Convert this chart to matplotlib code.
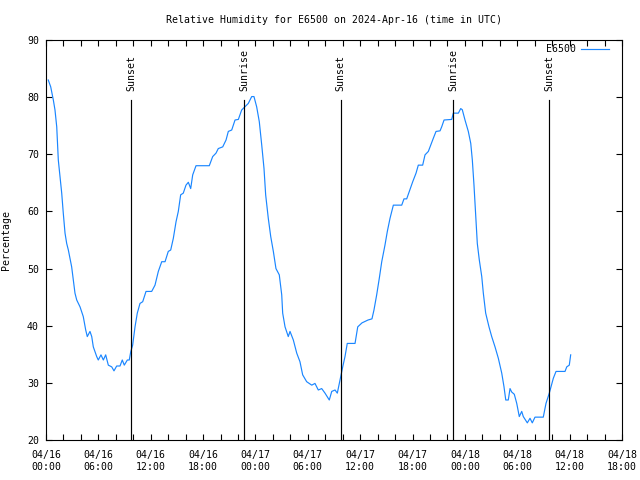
import matplotlib
matplotlib.use("Agg")
import matplotlib.pyplot as plt
import matplotlib.dates as mdates
import pandas as pd

# ---- data (hours since 2024-04-16 00:00 UTC, relative humidity %) ----
hours = [0.26, 0.54, 0.84, 1.03, 1.23, 1.41, 1.60, 1.80, 1.98, 2.18, 2.37, 2.56,
         2.94, 3.13, 3.32, 3.52, 3.90, 4.27, 4.55, 4.73, 5.04, 5.24, 5.42, 5.81,
         5.99, 6.30, 6.57, 6.84, 7.14, 7.53, 7.79, 8.10, 8.48, 8.74, 8.97, 9.32,
         9.54, 9.71, 9.93, 10.20, 10.46, 10.77, 11.08, 11.46, 12.11, 12.49, 12.87,
         13.26, 13.64, 14.01, 14.29, 14.59, 14.90, 15.16, 15.43, 15.73, 16.04,
         16.31, 16.58, 16.81, 17.19, 18.71, 19.10, 19.48, 19.74, 20.25, 20.63,
         20.89, 21.28, 21.66, 22.04, 22.42, 22.72, 23.18, 23.57, 23.83, 24.14,
         24.44, 24.72, 24.98, 25.17, 25.47, 25.75, 26.05, 26.35, 26.73, 27.01,
         27.12, 27.39, 27.76, 27.96, 28.34, 28.73, 29.10, 29.41, 29.87, 30.45,
         30.82, 31.20, 31.59, 31.97, 32.46, 32.74, 33.12, 33.38, 33.69, 34.00,
         34.26, 34.52, 35.41, 35.72, 36.21, 36.90, 37.35, 37.58, 37.89, 38.19,
         38.47, 38.84, 39.11, 39.42, 39.80, 40.76, 41.02, 41.33, 41.63, 42.02,
         42.40, 42.66, 43.16, 43.43, 43.81, 44.08, 44.38, 44.69, 45.15, 45.34,
         45.61, 46.49, 46.67, 47.25, 47.52, 47.70, 48.01, 48.39, 48.67, 48.85,
         49.04, 49.24, 49.42, 49.65, 49.93, 50.11, 50.38, 50.76, 51.07, 51.45,
         51.83, 52.22, 52.48, 52.68, 52.97, 53.17, 53.36, 53.66, 53.94, 54.23,
         54.51, 54.69, 55.15, 55.46, 55.72, 56.03, 56.98, 57.29, 57.67, 58.13,
         58.44, 59.47, 59.67, 59.96, 60.12]
humidity = [83.0, 81.8, 79.5, 77.75, 74.8, 69.0, 66.1, 63.2, 59.7, 56.2, 54.4, 53.25,
            50.3, 48.0, 45.7, 44.5, 43.3, 41.6, 39.25, 38.1, 39.0, 38.1, 36.3, 34.6,
            34.0, 34.9, 34.0, 34.9, 33.1, 32.8, 32.1, 32.95, 32.95, 34.0, 33.1, 34.0,
            34.0, 35.45, 36.6, 39.8, 42.2, 43.9, 44.2, 46.0, 46.0, 47.1, 49.5,
            51.2, 51.2, 53.0, 53.25, 55.3, 58.2, 60.0, 62.9, 63.2, 64.6,
            65.1, 64.0, 66.4, 68.0, 68.0, 69.6, 70.2, 71.0, 71.3, 72.5,
            74.0, 74.25, 76.0, 76.1, 77.75, 78.2, 78.9, 80.1, 80.1, 78.3,
            75.7, 71.6, 67.5, 62.9, 58.8, 55.6, 53.0, 50.0, 48.9, 45.4,
            42.2, 39.8, 38.1, 39.0, 37.5, 35.2, 33.7, 31.4, 30.2, 29.6,
            29.9, 28.75, 29.0, 28.2, 27.0, 28.5, 28.75, 28.2, 30.5, 32.8,
            34.6, 36.9, 36.9, 39.8, 40.5, 41.0, 41.2, 42.75, 45.4, 48.3,
            51.2, 54.1, 56.5, 58.8, 61.1, 61.1, 62.2, 62.2, 63.5, 65.2,
            66.7, 68.1, 68.1, 69.9, 70.5, 71.6, 72.8, 74.0, 74.1, 74.8,
            76.0, 76.1, 77.2, 77.2, 78.0, 77.8, 76.0, 74.0, 71.9, 69.0,
            64.6, 59.1, 54.4, 51.5, 48.6, 45.7, 42.2, 39.8, 38.1, 36.3,
            34.3, 31.7, 29.3, 27.0, 27.0, 29.0, 28.4, 28.0, 26.4, 24.1,
            25.0, 24.1, 23.0, 23.8, 23.0, 24.0, 24.0, 26.4, 28.2, 30.8,
            32.0, 32.0, 32.8, 33.1, 34.9]

event_times = ["2024-04-16 09:44", "2024-04-16 22:43", "2024-04-17 09:47",
               "2024-04-17 22:41", "2024-04-18 09:41"]
event_labels = ["Sunset", "Sunrise", "Sunset", "Sunrise", "Sunset"]

station = "E6500"
title = "Relative Humidity for E6500 on 2024-Apr-16 (time in UTC)"
ylabel = "Percentage"
x_start = "2024-04-16 00:00"
x_end = "2024-04-18 18:00"
y_min, y_max = 20, 90

# ---- plotting ----
FONT = "DejaVu Sans Mono"
FS = 7.15
LINE_COLOR = "#1a86ff"
plt.rcParams["font.family"] = FONT
plt.rcParams["font.size"] = FS

times = pd.Timestamp(x_start) + pd.to_timedelta(hours, unit="h")

fig = plt.figure(figsize=(6.4, 4.8), dpi=100)
ax = fig.add_axes([46 / 640, 40 / 480, 576 / 640, 400 / 480])

ax.plot(times, humidity, color=LINE_COLOR, lw=0.85, label=station)

for t, lab in zip(event_times, event_labels):
    ts = pd.Timestamp(t)
    ax.plot([ts, ts], [y_min, y_min + 0.85 * (y_max - y_min)], color="black", lw=0.85)
    ax.text(ts, y_min + 0.872 * (y_max - y_min), lab, rotation=90,
            ha="center", va="bottom", fontsize=FS, family=FONT)

ax.set_xlim(pd.Timestamp(x_start), pd.Timestamp(x_end))
ax.set_ylim(y_min, y_max)
ax.set_yticks(range(y_min, y_max + 1, 10))
ax.xaxis.set_major_locator(mdates.HourLocator(byhour=range(0, 24, 6)))
ax.xaxis.set_minor_locator(mdates.HourLocator(byhour=range(0, 24, 2)))
ax.xaxis.set_major_formatter(mdates.DateFormatter("%m/%d\n%H:%M"))

ax.tick_params(which="both", direction="in", top=True, right=True,
               width=0.8, labelsize=FS)
ax.tick_params(which="major", length=4)
ax.tick_params(which="minor", length=4)
ax.tick_params(axis="x", which="major", pad=7)
ax.tick_params(axis="y", which="major", pad=5)
for lbl in ax.get_xticklabels():
    lbl.set_linespacing(1.25)
for s in ax.spines.values():
    s.set_linewidth(0.8)

ax.set_title(title, fontsize=FS, pad=12.5)
ax.set_ylabel(ylabel, fontsize=FS)
ax.yaxis.set_label_coords((11 - 46) / 576, 0.5)

# legend entry (gnuplot style: text then line sample, top right)
ly = (440 - 49) / 400
ax.text((576 - 46) / 576, ly, station, transform=ax.transAxes,
        ha="right", va="center", fontsize=FS, family=FONT)
ax.plot([(581 - 46) / 576, (609 - 46) / 576], [ly, ly], transform=ax.transAxes,
        color=LINE_COLOR, lw=0.85)

fig.savefig("out.png", dpi=100)
